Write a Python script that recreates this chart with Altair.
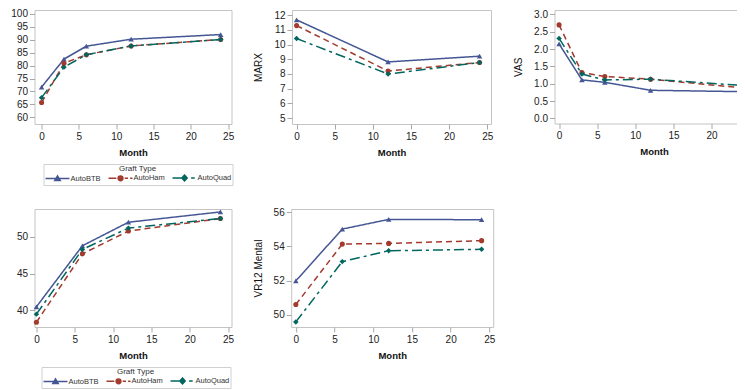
import altair as alt
import pandas as pd

GROUPS = ["AutoBTB", "AutoHam", "AutoQuad"]
COLORS = ["#445694", "#A23A2E", "#01665E"]
DASHES = [[1, 0], [6, 4], [10, 4, 3, 4]]
MARKERS = ["triangle-up", "circle", "diamond"]
MARKER_SIZES = [30, 26, 30]

# legend glyphs: line segment(s) + marker (units of 3px)
LEGEND_PATHS = [
    "M-1,0H7M3,-0.9L3.9,0.6L2.1,0.6Z",
    "M-1,0H1.6M4.4,0H5.5M6.2,0H7M3.8,0A0.8,0.8,0,1,1,2.2,0A0.8,0.8,0,1,1,3.8,0Z",
    "M-1,0H2M5.2,0H6.4M3,-1L3.9,0L3,1L2.1,0Z",
]

koos_months = [0, 3, 6, 12, 24]
koos_btb = [71.7, 82.5, 87.5, 90.2, 92.0]
koos_ham = [65.7, 80.9, 84.2, 87.6, 90.1]
koos_quad = [67.6, 79.4, 84.2, 87.6, 90.1]

marx_months = [0, 12, 24]
marx_btb = [11.68, 8.82, 9.21]
marx_ham = [11.29, 8.20, 8.78]
marx_quad = [10.41, 8.00, 8.78]

vas_months = [0, 3, 6, 12, 24]
vas_btb = [2.15, 1.11, 1.04, 0.81, 0.77]
vas_ham = [2.70, 1.32, 1.21, 1.13, 0.88]
vas_quad = [2.31, 1.28, 1.11, 1.13, 0.95]

phys_months = [0, 6, 12, 24]
phys_btb = [40.5, 48.8, 52.0, 53.4]
phys_ham = [38.4, 47.7, 50.8, 52.5]
phys_quad = [39.5, 48.3, 51.2, 52.5]

ment_months = [0, 6, 12, 24]
ment_btb = [51.98, 55.02, 55.59, 55.57]
ment_ham = [50.59, 54.14, 54.18, 54.34]
ment_quad = [49.57, 53.11, 53.75, 53.83]

X_TICKS = [0, 5, 10, 15, 20, 25]


def panel(months, btb, ham, quad, ytitle, ydom, yvals, yfmt, w, h, lx, ly,
          xdom=(-0.6, 25.5), ytp=10):
    rows = []
    for g, vals in zip(GROUPS, [btb, ham, quad]):
        for m, v in zip(months, vals):
            rows.append({"Month": m, "Value": v, "Graft Type": g})
    df = pd.DataFrame(rows)
    base = alt.Chart(df)
    x = alt.X("Month:Q",
              scale=alt.Scale(domain=list(xdom), nice=False, zero=False),
              axis=alt.Axis(values=X_TICKS, title="Month", titleFontWeight="bold"))
    y = alt.Y("Value:Q",
              scale=alt.Scale(domain=ydom, nice=False, zero=False),
              axis=alt.Axis(values=yvals, format=yfmt, title=ytitle,
                            titleFontWeight="normal", titlePadding=ytp))
    color = alt.Color("Graft Type:N", scale=alt.Scale(domain=GROUPS, range=COLORS), legend=None)
    dash = alt.StrokeDash("Graft Type:N", scale=alt.Scale(domain=GROUPS, range=DASHES), legend=None)
    line = base.mark_line(strokeWidth=1.5).encode(x=x, y=y, color=color, strokeDash=dash)
    pts = [
        base.transform_filter(alt.datum["Graft Type"] == g)
        .mark_point(shape=s, filled=True, size=sz, opacity=1)
        .encode(x=x, y=y, color=color)
        for g, s, sz in zip(GROUPS, MARKERS, MARKER_SIZES)
    ]
    leg = alt.Legend(title="Graft Type", orient="none", legendX=lx, legendY=ly,
                     direction="horizontal", symbolOpacity=1, symbolSize=36)
    legl = base.mark_point(filled=True, opacity=0, size=1).encode(
        x=x, y=y,
        fill=alt.Fill("Graft Type:N", scale=alt.Scale(domain=GROUPS, range=COLORS), legend=leg),
        stroke=alt.Stroke("Graft Type:N", scale=alt.Scale(domain=GROUPS, range=COLORS), legend=leg),
        shape=alt.Shape("Graft Type:N", scale=alt.Scale(domain=GROUPS, range=LEGEND_PATHS), legend=leg),
    )
    return alt.layer(line, *pts, legl).properties(width=w, height=h)


p1 = panel(koos_months, koos_btb, koos_ham, koos_quad, "KOOS Pain",
           [57.4, 101.5], [60, 65, 70, 75, 80, 85, 90, 95, 100], "d", 197, 114, 9, 154,
           xdom=(-0.95, 25.45), ytp=7.5)
p2 = panel(marx_months, marx_btb, marx_ham, marx_quad, "MARX",
           [4.6, 12.35], [5, 6, 7, 8, 9, 10, 11, 12], "d", 199, 114, 9, 154)
p3 = panel(vas_months, vas_btb, vas_ham, vas_quad, "VAS",
           [-0.15, 3.13], [0, 0.5, 1.0, 1.5, 2.0, 2.5, 3.0], ".1f", 199, 113.5, 8, 154)
p4 = panel(phys_months, phys_btb, phys_ham, phys_quad, "VR12 Physical",
           [37.75, 53.8], [40, 45, 50], "d", 197, 118, 7, 158,
           xdom=(-0.25, 25.45), ytp=12.7)
p5 = panel(ment_months, ment_btb, ment_ham, ment_quad, "VR12 Mental",
           [49.27, 56.2], [50, 52, 54, 56], "d", 202, 118, 11, 158)

row1 = alt.hconcat(p1, p2, p3, spacing=18.5)
row2 = alt.hconcat(p4, p5, spacing=17.7)

chart = alt.vconcat(row1, row2, spacing=20).properties(
    padding={"left": -15.5, "top": 0, "right": -20, "bottom": 0}
).configure_view(
    stroke="#c4c4c4", strokeWidth=1
).configure_axis(
    grid=False, domain=False, tickColor="#a8a8a8", tickSize=5,
    labelFont="Liberation Sans", labelFontSize=10, labelColor="#222", labelPadding=2,
    titleFont="Liberation Sans", titleFontSize=10, titleColor="#111", titlePadding=6,
).configure_axisX(
    titleFontSize=9.5
).configure_legend(
    titleFont="Liberation Sans", titleFontSize=8, titleFontWeight="normal", titleColor="#333",
    labelFont="Liberation Sans", labelFontSize=7.5, labelColor="#333",
    symbolSize=36, symbolStrokeWidth=1.5, labelOffset=18, columnPadding=4,
    padding=1, titlePadding=1, titleAnchor="middle", strokeColor="#d0d0d0", fillColor="white",
).resolve_legend(fill="independent", stroke="independent", shape="independent")

chart.save("out.html", embed_options={"renderer": "svg", "actions": False})
